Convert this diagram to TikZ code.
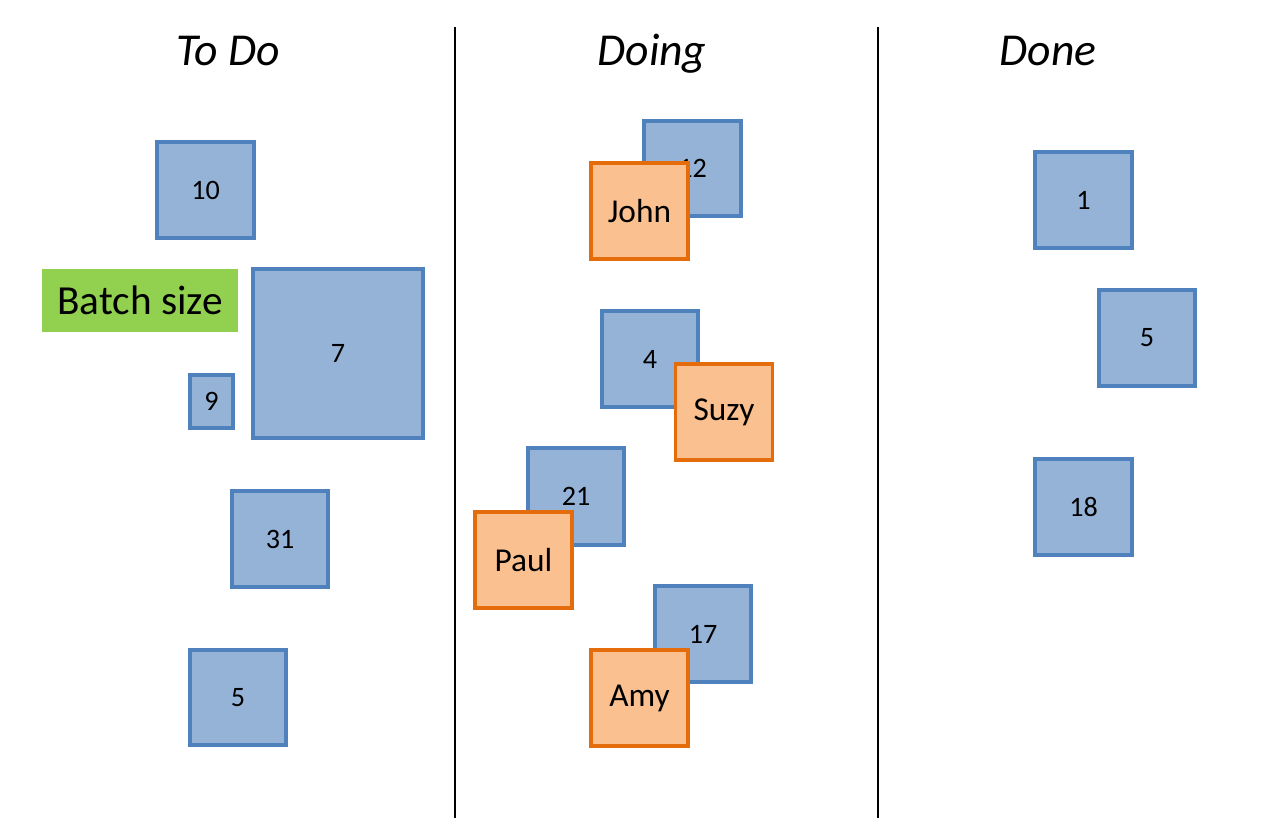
\documentclass[tikz,border=0pt]{standalone}
\usepackage{fontspec}
\setmainfont{Carlito}
\usepackage{tikz}
\definecolor{cardfill}{HTML}{95B3D7}
\definecolor{carddraw}{HTML}{4F81BD}
\definecolor{personfill}{HTML}{FAC090}
\definecolor{persondraw}{HTML}{E46C0A}
\definecolor{batchfill}{HTML}{92D050}
\tikzset{
	card/.style={draw=carddraw,fill=cardfill,line width=2pt,inner sep=0pt,font=\fontsize{16}{18}\selectfont},
	person/.style={draw=persondraw,fill=personfill,line width=2pt,inner sep=0pt,minimum width=1.94cm,minimum height=1.92cm,font=\fontsize{19}{22}\selectfont},
	heading/.style={anchor=base,font=\fontsize{26}{30}\selectfont\itshape}
}
\begin{document}
\begin{tikzpicture}[x=0.02cm,y=-0.02cm]
		\useasboundingbox (0,0) rectangle (1266,838);
		\draw[line width=1.4pt] (455,27) -- (455,818) ; % column lines
		\draw[line width=1.4pt] (878,27) -- (878,818) ;
		% headings
		\node[heading] (todo) at (228,66) {To Do};
		\node[heading] (doing) at (652,66) {Doing};
		\node[heading] (done) at (1048,66) {Done};
		% to do column
		\node[card,minimum width=1.94cm,minimum height=1.92cm] (c10) at (205.5,190) {10};
		\node[fill=batchfill,inner sep=0pt,minimum width=3.92cm,minimum height=1.26cm,font=\fontsize{23.5}{28}\selectfont] (batch) at (140,300.5) {Batch size};
		\node[card,minimum width=3.4cm,minimum height=3.38cm] (c7) at (338,353.5) {7};
		\node[card,minimum width=0.86cm,minimum height=1.06cm] (c9) at (211.5,401.5) {9};
		\node[card,minimum width=1.92cm,minimum height=1.92cm] (c31) at (280,539) {31};
		\node[card,minimum width=1.92cm,minimum height=1.9cm] (c5a) at (238,697.5) {5};
		% doing column
		\node[card,minimum width=1.94cm,minimum height=1.9cm] (c12) at (692.5,168.5) {12};
		\node[person] (john) at (639.5,211) {John};
		\node[card,minimum width=1.92cm,minimum height=1.92cm] (c4) at (650,359) {4};
		\node[person] (suzy) at (724,412) {Suzy};
		\node[card,minimum width=1.92cm,minimum height=1.94cm] (c21) at (576,496.5) {21};
		\node[person] (paul) at (523.5,560) {Paul};
		\node[card,minimum width=1.92cm,minimum height=1.92cm] (c17) at (703,634) {17};
		\node[person] (amy) at (639.5,698) {Amy};
		% done column
		\node[card,minimum width=1.94cm,minimum height=1.92cm] (c1) at (1083.5,200) {1};
		\node[card,minimum width=1.92cm,minimum height=1.92cm] (c5b) at (1147,338) {5};
		\node[card,minimum width=1.94cm,minimum height=1.92cm] (c18) at (1083.5,507) {18};
\end{tikzpicture}
\end{document}
